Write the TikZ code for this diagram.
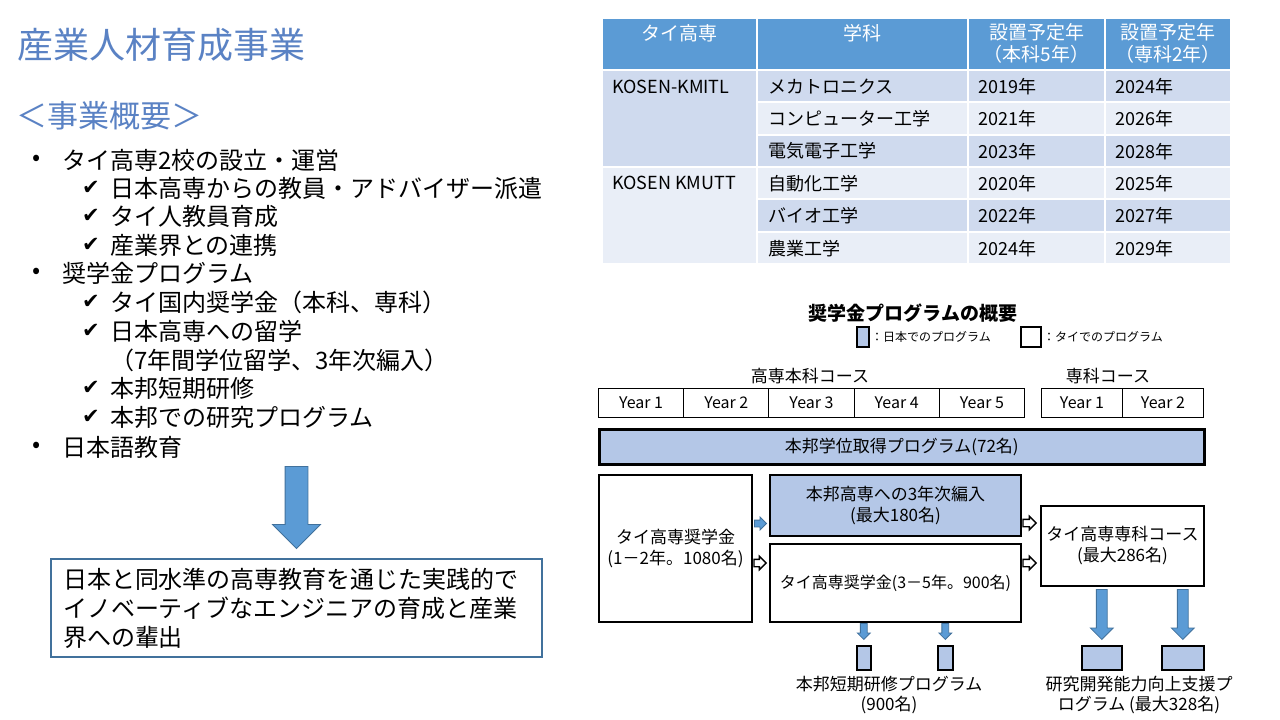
\documentclass[tikz,border=0pt]{standalone}
\usepackage{fontspec}
\setmainfont{Noto Sans CJK JP}
\newfontfamily\checkfont{DejaVu Sans}
\usetikzlibrary{calc,positioning,shapes.arrows}

\definecolor{headblue}{HTML}{5B9BD5}
\definecolor{rowdark}{HTML}{CFDAEE}
\definecolor{rowlight}{HTML}{E9EEF7}
\definecolor{boxblue}{HTML}{B4C7E7}
\definecolor{arrowblue}{HTML}{5B9BD5}
\definecolor{frameblue}{HTML}{41719C}
\definecolor{titleblue}{HTML}{5A82C4}

\tikzset{
  item/.style={anchor=west, inner sep=0pt, font=\fontsize{24}{28}\selectfont},
  cell/.style={anchor=west, inner sep=0pt, font=\fontsize{18}{22}\selectfont},
  headcell/.style={inner sep=0pt, align=center, text=white, font=\fontsize{19}{22}\selectfont},
  box/.style={draw, line width=2pt, anchor=north west, inner sep=0pt, align=center, font=\fontsize{17}{21}\selectfont},
  yearbox/.style={draw, line width=1pt, anchor=north west, inner sep=0pt, minimum height=29pt, font=\fontsize{16}{18}\selectfont},
  minibox/.style={draw, line width=1.5pt, fill=boxblue, anchor=north west, inner sep=0pt, minimum height=24pt},
  note/.style={inner sep=0pt, align=center, font=\fontsize{17}{20}\selectfont},
  blockarr/.style={single arrow, inner xsep=0pt, minimum width=0pt, single arrow head indent=0pt},
  bluearr/.style={blockarr, fill=arrowblue, draw=frameblue, line width=0.8pt},
  hollowarr/.style={blockarr, fill=white, draw=black, line width=1.4pt}
}

\begin{document}
\begin{tikzpicture}[x=1pt,y=-1pt]
\useasboundingbox (0,0) rectangle (1280,720);
\fill[white] (0,0) rectangle (1280,720);

% left side
\node[anchor=west, inner sep=0pt, text=titleblue, font=\fontsize{36}{40}\selectfont] (title) at (17,45) {産業人材育成事業};
\node[anchor=west, inner sep=0pt, text=titleblue, font=\fontsize{31}{34}\selectfont] (outline) at (16,116) {＜事業概要＞};

\foreach \y/\txt [count=\i] in {160/タイ高専2校の設立・運営, 273/奨学金プログラム, 447/日本語教育}{
  \node[inner sep=0pt, font=\fontsize{24}{28}\selectfont] (dot\i) at (37,\y) {•};
  \node[item] (main\i) at (62,\y) {\txt};
}
\foreach \y/\txt [count=\i] in {188/日本高専からの教員・アドバイザー派遣, 216/タイ人教員育成, 245/産業界との連携,
  302/タイ国内奨学金（本科、専科）, 331/日本高専への留学, 388/本邦短期研修, 417/本邦での研究プログラム}{
  \node[inner sep=0pt, font={\checkfont\fontsize{21}{24}\selectfont}] (tick\i) at (91,\y) {✔};
  \node[item] (point\i) at (110,\y) {\txt};
}
\node[item] (detail) at (110,360) {（7年間学位留学、3年次編入）};

\node[draw=frameblue, line width=2pt, anchor=north west, minimum width=491pt, minimum height=98pt,
  text width=467pt, inner xsep=12pt, inner ysep=0pt, align=left, font=\fontsize{24}{29}\selectfont] (res) at (50,558)
  {日本と同水準の高専教育を通じた実践的で\\イノベーティブなエンジニアの育成と産業\\界への輩出};
\node[bluearr, rotate=-90, anchor=tip, minimum height=82pt, inner ysep=11pt, single arrow head extend=12.5pt] (down) at ([yshift=9pt]res.north) {};

% table
\foreach \xa/\xb in {602/757, 757/968, 968/1105, 1105/1231}
  \filldraw[fill=headblue, draw=white, line width=2pt] (\xa,18) rectangle (\xb,70);
\node[headcell] (hschool) at (679.5,33) {タイ高専};
\node[headcell] (hdept) at (862.5,33) {学科};
\node[headcell] (hmain) at (1036.5,43) {設置予定年\\（本科5年）};
\node[headcell] (hspec) at (1168,43) {設置予定年\\（専科2年）};

\filldraw[fill=rowdark, draw=white, line width=2pt] (602,70) rectangle (757,167);
\filldraw[fill=rowlight, draw=white, line width=2pt] (602,167) rectangle (757,264);
\node[cell] (kmitl) at (612,87) {KOSEN-KMITL};
\node[cell] (kmutt) at (612,183) {KOSEN KMUTT};

\foreach \dep/\ya/\yb/\fc [count=\i] in {メカトロニクス/2019/2024/rowdark, コンピューター工学/2021/2026/rowlight,
  電気電子工学/2023/2028/rowdark, 自動化工学/2020/2025/rowlight, バイオ工学/2022/2027/rowdark, 農業工学/2024/2029/rowlight}{
  \pgfmathsetmacro\rowtop{70+(\i-1)*32.33}
  \foreach \xa/\xb in {757/968, 968/1105, 1105/1231}
    \filldraw[fill=\fc, draw=white, line width=2pt] (\xa,\rowtop) rectangle (\xb,{\rowtop+32.33});
  \node[cell] (dept\i) at (768,{\rowtop+16.5}) {\dep};
  \node[cell] (open\i) at (978,{\rowtop+16.5}) {{\ya}年};
  \node[cell] (spec\i) at (1115,{\rowtop+16.5}) {{\yb}年};
}

% scholarship overview
\node[inner sep=0pt, font=\bfseries\fontsize{19}{22}\selectfont] (schtitle) at (913,313) {奨学金プログラムの概要};
\node[minibox, line width=2pt, minimum width=12pt, minimum height=20pt] (keyjp) at (856,326) {};
\node[anchor=west, inner sep=1pt, font=\fontsize{12}{14}\selectfont] (keyjptext) at (keyjp.east) {：日本でのプログラム};
\node[minibox, line width=2pt, fill=white, minimum width=20pt, minimum height=20pt] (keyth) at (1020,326) {};
\node[anchor=west, inner sep=1pt, font=\fontsize{12}{14}\selectfont] (keythtext) at (keyth.east) {：タイでのプログラム};

\node[note] (hcourse) at (810,376) {高専本科コース};
\node[note] (scourse) at (1108,376) {専科コース};
\foreach \i in {1,...,5}
  \node[yearbox, minimum width=85.2pt] (hy\i) at ({598+(\i-1)*85.2},388) {Year \i};
\foreach \i in {1,2}
  \node[yearbox, minimum width=81pt] (sy\i) at ({1041+(\i-1)*81},388) {Year \i};

\node[box, fill=boxblue, line width=2.5pt, minimum width=605pt, minimum height=35pt] (deg) at (598,428) {本邦学位取得プログラム(72名)};
\node[box, minimum width=153pt, minimum height=147pt] (sch12) at (598,474) {タイ高専奨学金\\(1－2年。1080名)};
\node[box, fill=boxblue, minimum width=251pt, minimum height=61pt] (jp3) at (769,474) {本邦高専への3年次編入\\(最大180名)};
\node[box, minimum width=251pt, minimum height=78pt, font=\fontsize{16}{20}\selectfont] (sch35) at (769,543) {タイ高専奨学金(3－5年。900名)};
\node[box, minimum width=163pt, minimum height=80pt] (senka) at (1040,505) {タイ高専専科コース\\(最大286名)};

\node[minibox, minimum width=14pt] (sp1) at (856,645) {};
\node[minibox, minimum width=15pt] (sp2) at (937,645) {};
\node[minibox, minimum width=40pt] (rd1) at (1081,645) {};
\node[minibox, minimum width=42pt] (rd2) at (1161,645) {};

\node[bluearr, anchor=tip, minimum height=12pt, inner ysep=3pt, single arrow head extend=3pt] (tojp) at ($(jp3.west)+(-2,18)$) {};
\node[hollowarr, anchor=tip, minimum height=12pt, inner ysep=3pt, single arrow head extend=3pt] (toth) at ($(sch35.west)+(-2,-20)$) {};
\node[hollowarr, anchor=tip, minimum height=13pt, inner ysep=3pt, single arrow head extend=3pt] (tosk1) at ($(senka.west)+(-3,-23)$) {};
\node[hollowarr, anchor=tip, minimum height=13pt, inner ysep=3pt, single arrow head extend=3pt] (tosk2) at ($(senka.west)+(-3,17)$) {};

\foreach \b in {sp1,sp2}
  \node[bluearr, rotate=-90, anchor=tip, minimum height=16pt, inner ysep=3pt, single arrow head extend=3pt] (to\b) at ([yshift=5pt]\b.north) {};
\foreach \b in {rd1,rd2}
  \node[bluearr, rotate=-90, anchor=tip, minimum height=50pt, inner ysep=5pt, single arrow head extend=6pt] (to\b) at ([yshift=5pt]\b.north) {};

\node[note, anchor=north] (spnote) at (889,676) {本邦短期研修プログラム\\(900名)};
\node[note, anchor=north] (rdnote) at (1139,676) {研究開発能力向上支援プ\\ログラム (最大328名)};
\end{tikzpicture}
\end{document}
